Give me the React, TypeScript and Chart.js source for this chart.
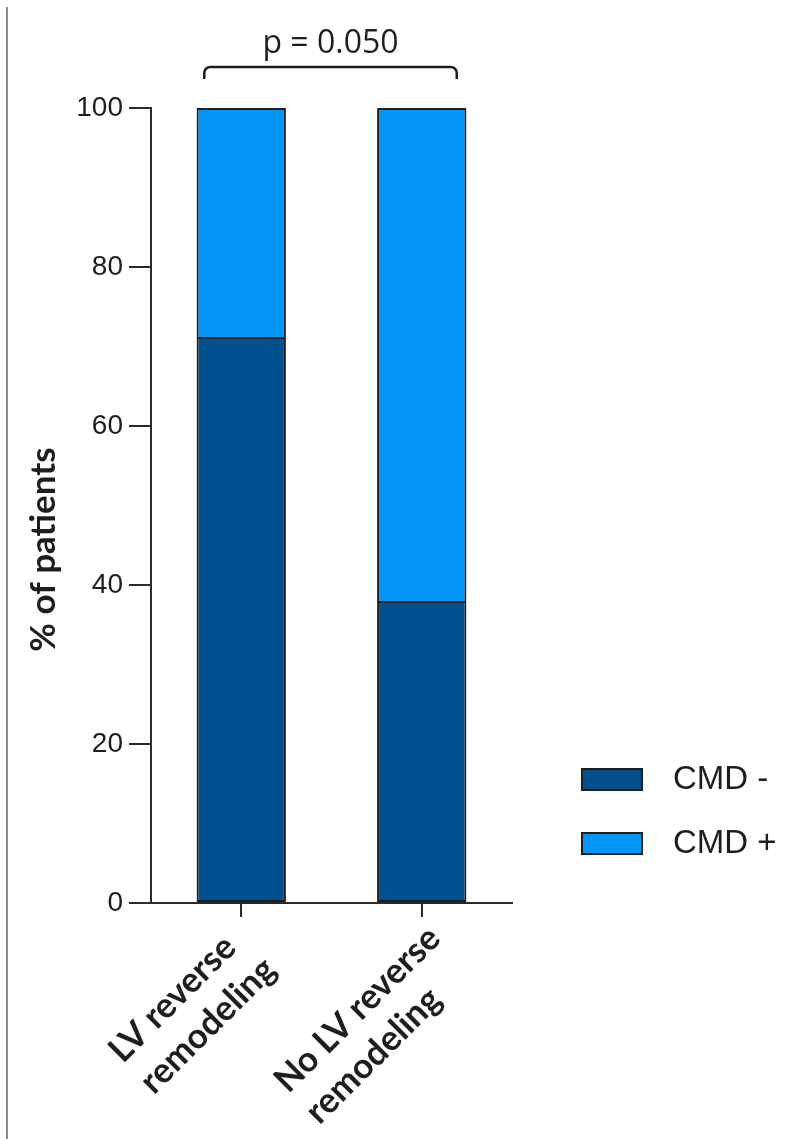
import React, { useEffect, useRef } from "react";
import { Chart, registerables } from "chart.js";

Chart.register(...registerables);

// Groups on the category axis (each label is drawn on two lines)
const categories: string[][] = [
  ["LV reverse", "remodeling"],
  ["No LV reverse", "remodeling"],
];
// Share of patients (%) in each group
const cmdNegative = [71.2, 38.0];
const cmdPositive = [28.8, 62.0];
const seriesLabels = ["CMD -", "CMD +"];
const yTickValues = [0, 20, 40, 60, 80, 100];
const yTitle = "% of patients";
const pValueLabel = "p = 0.050";

const DARK = "#02508E";
const LIGHT = "#0495F9";
const INK = "#1e1e1e";
const AXIS = "#2a2a2a";

const decorations = {
  id: "decorations",
  beforeDraw(chart: any) {
    const { ctx } = chart;
    ctx.save();
    ctx.fillStyle = "#ffffff";
    ctx.fillRect(0, 0, chart.width, chart.height);
    // thin rule along the left edge of the figure
    ctx.strokeStyle = "#8a8a8a";
    ctx.lineWidth = 2;
    ctx.beginPath();
    ctx.moveTo(7, 7);
    ctx.lineTo(7, chart.height);
    ctx.stroke();
    ctx.restore();
  },
  afterDraw(chart: any) {
    const { ctx, chartArea, scales } = chart;
    const xs = scales.x;

    // y-axis title
    ctx.save();
    ctx.fillStyle = INK;
    ctx.font = "bold 35px Lato";
    ctx.textAlign = "center";
    ctx.textBaseline = "middle";
    ctx.translate(44, (chartArea.top + chartArea.bottom) / 2 + 44);
    ctx.rotate(-Math.PI / 2);
    ctx.fillText(yTitle, 0, 0);
    ctx.restore();

    // rotated category labels, lines left-aligned within each block
    ctx.save();
    ctx.fillStyle = INK;
    ctx.font = "bold 35px Lato";
    const lineH = 44;
    categories.forEach((lines, i) => {
      const tx = xs.getPixelForTick(i);
      const W = Math.max(...lines.map((l) => ctx.measureText(l).width));
      ctx.save();
      ctx.translate(tx - 80 + 0.354 * W, chartArea.bottom + 14);
      ctx.rotate(-Math.PI / 4);
      ctx.textAlign = "left";
      ctx.textBaseline = "middle";
      lines.forEach((l, j) => ctx.fillText(l, -W, (j + 0.5) * lineH));
      ctx.restore();
    });
    ctx.restore();

    // significance bracket between the two groups
    const left = xs.getPixelForValue(0) - 37;
    const right = xs.getPixelForValue(1) + 35;
    const top = chartArea.top - 41;
    const foot = top + 12;
    const r = 6;
    ctx.save();
    ctx.strokeStyle = INK;
    ctx.lineWidth = 2.5;
    ctx.beginPath();
    ctx.moveTo(left, foot);
    ctx.arcTo(left, top, left + r, top, r);
    ctx.arcTo(right, top, right, top + r, r);
    ctx.lineTo(right, foot);
    ctx.stroke();
    ctx.fillStyle = INK;
    ctx.font = "32px 'Open Sans'";
    ctx.textAlign = "center";
    ctx.textBaseline = "alphabetic";
    ctx.fillText(pValueLabel, (left + right) / 2, top - 14);
    ctx.restore();

    // legend
    ctx.save();
    const colors = [DARK, LIGHT];
    seriesLabels.forEach((label, i) => {
      const boxY = 769 + i * 64;
      ctx.fillStyle = colors[i];
      ctx.fillRect(582, boxY, 60, 21);
      ctx.strokeStyle = INK;
      ctx.lineWidth = 2;
      ctx.strokeRect(582, boxY, 60, 21);
      ctx.fillStyle = INK;
      ctx.font = "33px 'Liberation Sans'";
      ctx.textAlign = "left";
      ctx.textBaseline = "middle";
      ctx.fillText(label, 673, boxY + 11);
    });
    ctx.restore();
  },
};

export default function App() {
  const canvasRef = useRef<HTMLCanvasElement | null>(null);

  useEffect(() => {
    document.body.style.margin = "0";
    const canvas = canvasRef.current;
    if (!canvas) return;
    const chart = new Chart(canvas, {
      type: "bar",
      data: {
        labels: categories.map((c) => c.join(" ")),
        datasets: [
          {
            label: seriesLabels[0],
            data: cmdNegative,
            backgroundColor: DARK,
            borderColor: INK,
            borderWidth: 2,
            borderSkipped: false,
          },
          {
            label: seriesLabels[1],
            data: cmdPositive,
            backgroundColor: LIGHT,
            borderColor: INK,
            borderWidth: 2,
          },
        ],
      },
      plugins: [decorations],
      options: {
        responsive: false,
        animation: false,
        devicePixelRatio: 1,
        layout: { padding: { top: 108, right: 283, bottom: 0, left: 0 } },
        plugins: {
          legend: { display: false },
          tooltip: { enabled: false },
        },
        datasets: { bar: { barPercentage: 0.495, categoryPercentage: 1 } },
        scales: {
          x: {
            stacked: true,
            offset: true,
            grid: {
              offset: false,
              drawOnChartArea: false,
              drawTicks: true,
              tickLength: 14,
              color: AXIS,
              lineWidth: 2,
            },
            border: { display: true, color: AXIS, width: 2 },
            ticks: { display: false },
            afterFit: (s: any) => {
              s.height = 236;
            },
          },
          y: {
            stacked: true,
            min: 0,
            max: 100,
            afterBuildTicks: (s: any) => {
              s.ticks = yTickValues.map((v) => ({ value: v }));
            },
            grid: {
              drawOnChartArea: false,
              drawTicks: true,
              tickLength: 22,
              color: AXIS,
              lineWidth: 2,
            },
            border: { display: true, color: AXIS, width: 2 },
            ticks: {
              padding: 6,
              color: INK,
              font: { family: "'Liberation Sans'", size: 28 },
            },
            afterFit: (s: any) => {
              s.width = 151;
            },
          },
        },
      },
    });
    return () => chart.destroy();
  }, []);

  return (
    <canvas
      ref={canvasRef}
      width={795}
      height={1139}
      style={{ display: "block", width: 795, height: 1139 }}
    />
  );
}
